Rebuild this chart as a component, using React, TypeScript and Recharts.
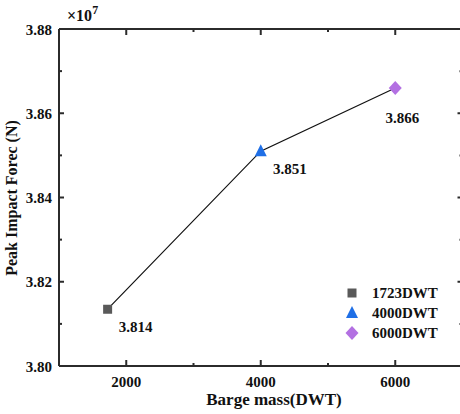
import React from 'react';
import { ComposedChart, Line, XAxis, YAxis } from 'recharts';

// barge mass (DWT) and peak impact force (x10^7 N)
const massDWT = [1723, 4000, 6000];
const peakForce = [3.8135, 3.851, 3.866];
const forceLabels = ['3.814', '3.851', '3.866'];
const seriesNames = ['1723DWT', '4000DWT', '6000DWT'];
const markerColors = ['#595959', '#1f6fe6', '#b370e2'];
const markerShapes = ['square', 'triangle', 'diamond'];

const xTicks = [2000, 3000, 4000, 5000, 6000];
const xLabelTicks = [2000, 4000, 6000];
const yTicks = [3.8, 3.81, 3.82, 3.83, 3.84, 3.85, 3.86, 3.87, 3.88];
const yLabelTicks = [3.8, 3.82, 3.84, 3.86, 3.88];

const FONT = "'Liberation Serif', 'Times New Roman', serif";
const AXIS_COLOR = '#2b2b2b';
const boldText = { fontFamily: FONT, fontWeight: 'bold' as const, color: '#111', lineHeight: 1, whiteSpace: 'nowrap' as const };

const chartData = massDWT.map((m, i) => ({ mass: m, force: peakForce[i], label: forceLabels[i] }));

const isMajor = (list: number[], v: number) => list.some((t) => Math.abs(t - v) < 1e-9);

function markerPath(shape: string, cx: number, cy: number) {
  if (shape === 'square') return `M${cx - 4.5},${cy - 4.5}h9v9h-9Z`;
  if (shape === 'triangle') return `M${cx},${cy - 7}L${cx + 6},${cy + 5}L${cx - 6},${cy + 5}Z`;
  return `M${cx},${cy - 7}L${cx + 6.5},${cy}L${cx},${cy + 7}L${cx - 6.5},${cy}Z`;
}

const makeTick = (list: number[], dir: 'up' | 'down' | 'right' | 'left', major: number, minor: number, withLabel: boolean) =>
  (props: any) => {
    const { x, y, payload } = props;
    const isM = isMajor(list, payload.value);
    const len = isM ? major : minor;
    const d =
      dir === 'up' ? `M${x},${y}L${x},${y - len}` :
      dir === 'down' ? `M${x},${y}L${x},${y + len}` :
      dir === 'right' ? `M${x},${y}L${x + len},${y}` : `M${x},${y}L${x - len},${y}`;
    let label = null;
    if (withLabel && isM) {
      label = dir === 'up' ? (
        <text x={x} y={y + 20.5} textAnchor="middle" style={{ fontFamily: FONT, fontWeight: 'bold', fontSize: 15, fill: '#111' }}>
          {payload.value}
        </text>
      ) : (
        <text x={x - 7} y={y + 5.5} textAnchor="end" style={{ fontFamily: FONT, fontWeight: 'bold', fontSize: 15, fill: '#111' }}>
          {payload.value.toFixed(2)}
        </text>
      );
    }
    return (
      <g>
        <path d={d} stroke={AXIS_COLOR} strokeWidth={2} />
        {label}
      </g>
    );
  };

// value label offsets from each point
const labelDx = [28, 29, 7];
const labelDy = [23, 23, 35];

const renderDot = (props: any) => {
  const { cx, cy, index } = props;
  return (
    <g key={index}>
      <path d={markerPath(markerShapes[index], cx, cy)} fill={markerColors[index]} />
      <text
        x={cx + labelDx[index]}
        y={cy + labelDy[index]}
        textAnchor="middle"
        style={{ fontFamily: FONT, fontWeight: 'bold', fontSize: 15, fill: '#111' }}
      >
        {forceLabels[index]}
      </text>
    </g>
  );
};

export default function App() {
  return (
    <div style={{ position: 'absolute', left: 0, top: 0, width: 460, height: 414, overflow: 'hidden', background: '#fff' }}>
      <ComposedChart width={470} height={414} data={chartData} margin={{ top: 28, right: 6.5, bottom: 0, left: 0 }}>
        {/* keeps the mirrored top/right frame axes bound to the data */}
        <Line xAxisId="top" yAxisId="right" dataKey="force" stroke="none" dot={false} isAnimationActive={false} />
        <Line type="linear" dataKey="force" stroke="#111" strokeWidth={1.2} dot={renderDot} isAnimationActive={false} />
        <XAxis dataKey="mass" type="number" domain={[1000, 7000]} ticks={xTicks} interval={0} tickSize={0} tickMargin={0}
          tickLine={false} tick={makeTick(xLabelTicks, 'up', 6, 3, true)} height={48} stroke={AXIS_COLOR} strokeWidth={2} allowDataOverflow />
        <XAxis xAxisId="top" orientation="top" dataKey="mass" type="number" domain={[1000, 7000]} ticks={xTicks} interval={0}
          tickSize={0} tickMargin={0} tickLine={false} tick={makeTick(xLabelTicks, 'down', 6, 3, false)} height={1}
          stroke={AXIS_COLOR} strokeWidth={2} allowDataOverflow />
        <YAxis type="number" domain={[3.8, 3.88]} ticks={yTicks} interval={0} tickSize={0} tickMargin={0} tickLine={false}
          tick={makeTick(yLabelTicks, 'right', 5, 3, true)} width={59} stroke={AXIS_COLOR} strokeWidth={2} allowDataOverflow />
        <YAxis yAxisId="right" orientation="right" type="number" domain={[3.8, 3.88]} ticks={yTicks} interval={0} tickSize={0}
          tickMargin={0} tickLine={false} tick={makeTick(yLabelTicks, 'left', 5, 3, false)} width={1} stroke={AXIS_COLOR}
          strokeWidth={2} allowDataOverflow />
      </ComposedChart>

      {/* axis titles, exponent and legend */}
      <div style={{ ...boldText, position: 'absolute', left: 67, top: 8, fontSize: 16 }}>
        ×10<span style={{ position: 'relative', top: -7, fontSize: 12 }}>7</span>
      </div>
      <div style={{ ...boldText, position: 'absolute', left: 274, top: 391, fontSize: 17, transform: 'translateX(-50%)' }}>
        Barge mass(DWT)
      </div>
      <div
        style={{
          ...boldText,
          position: 'absolute',
          left: 12,
          top: 198,
          fontSize: 16,
          transform: 'translate(-50%, -50%) rotate(-90deg)',
        }}
      >
        Peak Impact Forec (N)
      </div>
      <div style={{ ...boldText, position: 'absolute', left: 340, top: 283, fontSize: 15 }}>
        {seriesNames.map((name, i) => (
          <div key={name} style={{ display: 'flex', alignItems: 'center', height: 20 }}>
            <svg width={24} height={20}>
              <path d={markerPath(markerShapes[i], 12, 10)} fill={markerColors[i]} />
            </svg>
            <span style={{ marginLeft: 8 }}>{name}</span>
          </div>
        ))}
      </div>
    </div>
  );
}
